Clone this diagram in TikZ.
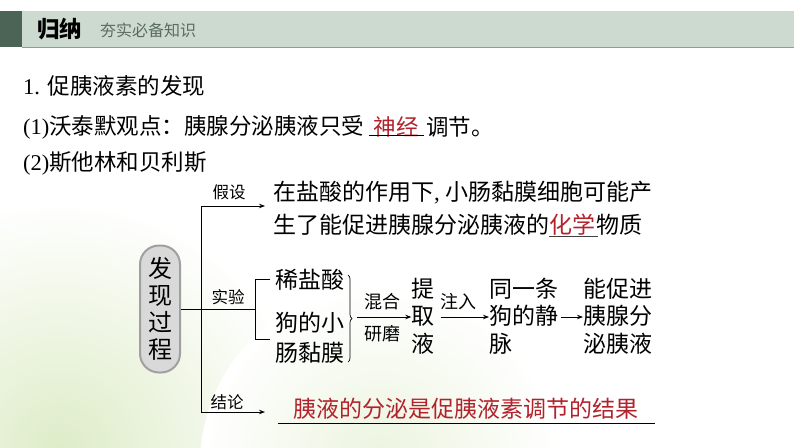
\documentclass[tikz,border=0pt]{standalone}
\usepackage{fontspec}
\setmainfont{Liberation Serif}
\newfontfamily\cjk{Noto Sans CJK SC}
\usetikzlibrary{arrows.meta,decorations.pathreplacing}
\definecolor{ansred}{RGB}{178,34,44}
\definecolor{barbg}{RGB}{205,218,208}
\definecolor{bardark}{RGB}{76,100,86}
\definecolor{bargrey}{RGB}{90,108,96}
\definecolor{pillfill}{RGB}{217,217,217}
\definecolor{pilldraw}{RGB}{160,160,160}
\definecolor{glow}{RGB}{222,236,200}
\begin{document}
\begin{tikzpicture}[x=1pt,y=-1pt,
  hd/.style={inner sep=0pt, anchor=west, font=\cjk\fontsize{22.5}{27}\selectfont},
  txt/.style={inner sep=0pt, anchor=west, font=\cjk\fontsize{23}{27.5}\selectfont},
  lbl/.style={inner sep=0pt, font=\cjk\fontsize{16.5}{18}\selectfont},
  sml/.style={inner sep=0pt, font=\cjk\fontsize{18}{20}\selectfont},
  conn/.style={line width=0.9pt},
  arr/.style={conn,-{Stealth[length=6pt,width=4.5pt]}},
  pill/.style={draw=pilldraw, fill=pillfill, line width=2pt, rounded corners=19pt,
    minimum width=40pt, minimum height=127pt, inner sep=0pt, align=center,
    font=\cjk\fontsize{24}{27}\selectfont},
]
\useasboundingbox (0,0) rectangle (794,447);
% background
\fill[white] (0,0) rectangle (794,447);
\begin{scope}
  \clip (0,0) rectangle (794,447);
  \shade[inner color=glow, outer color=white] (60,450) circle (250);
  \shade[inner color=glow!60, outer color=white] (380,465) circle (180);
\end{scope}
% header
\fill[barbg] (22,11) rectangle (794,47);
\fill[bardark] (0,11) rectangle (22,47);
\draw[line width=1.5pt, color=gray!80] (22,47.5) -- (794,47.5);
\node[inner sep=0pt, anchor=west, font=\cjk\bfseries\fontsize{22.5}{24}\selectfont] (gn) at (37,29) {归纳};
\node[inner sep=0pt, anchor=west, text=bargrey, font=\cjk\fontsize{16}{18}\selectfont] (hs) at (100,30) {夯实必备知识};

% heading lines
\node[hd] (l1) at (23,86) {{\rmfamily 1. }促胰液素的发现};
\node[hd] (l2a) at (23,127) {{\rmfamily (1)}沃泰默观点：胰腺分泌胰液只受};
\node[hd, text=ansred, minimum width=55pt, anchor=west] (sj) at ([xshift=4pt]l2a.east) {神经};
\draw[conn] ([yshift=-8pt]sj.west) -- ([yshift=-8pt]sj.east);
\node[hd] (l2b) at ([xshift=2pt]sj.east) {调节。};
\node[hd] (l3) at (23,163) {{\rmfamily (2)}斯他林和贝利斯};

% pill
\node[pill] (fx) at (160,309) {发\\现\\过\\程};

% trunk
\coordinate (vtop) at (201,206);
\coordinate (vbot) at (201,412);
\coordinate (brk) at (255,309);
\coordinate (atop) at (265,206);
\coordinate (abot) at (265,412);
\draw[conn] (vtop) -- (vbot);
\draw[conn] (fx.east) -- (brk);
\draw[arr] (vtop) -- (atop);
\draw[arr] (vbot) -- (abot);
\node[lbl] (jsl) at (229,192) {假设};
\node[lbl] (syl) at (228,297) {实验};
\node[lbl] (jll) at (227,402) {结论};

% hypothesis
\node[txt] (h1) at (273,193) {在盐酸的作用下{\rmfamily , }小肠黏膜细胞可能产};
\node[txt] (h2a) at (273,225) {生了能促进胰腺分泌胰液的};
\node[txt, text=ansred] (hx) at (h2a.east) {化学};
\node[txt] (h2b) at (hx.east) {物质};
\draw[conn, color=black!75] ([yshift=-11.5pt]hx.west) -- ([yshift=-11.5pt,xshift=2pt]hx.east);

% experiment
\coordinate (bt) at (270,279);
\coordinate (bb) at (270,339);
\draw[conn] (bt) -- (bt -| brk) -- (bb -| brk) -- (bb);
\node[txt] (e1) at (275,280) {稀盐酸};
\node[txt] (e2) at (275,323) {狗的小};
\node[txt] (e3) at (275,353) {肠黏膜};
\coordinate (brT) at (348,275);
\coordinate (brB) at (348,362);
\draw[line width=0.7pt, decorate, decoration={brace, amplitude=4pt}] (brT) -- (brB);
\coordinate (m1) at (357,317);
\node[txt, anchor=center, align=center] (tq) at (423,316) {提\\取\\液};
\draw[arr] (m1) -- (tq.west |- m1);
\node[sml] (hh) at (382,302) {混合};
\node[sml] (ym) at (382,334) {研磨};
\node[txt, align=left] (tyt) at (489,316) {同一条\\狗的静\\脉};
\draw[arr] ([xshift=6pt]tq.east |- m1) -- (tyt.west |- m1);
\node[sml] (zr) at (458,302) {注入};
\node[txt, align=left] (ncj) at (583,316) {能促进\\胰腺分\\泌胰液};
\coordinate (j1) at (561,317);
\draw[arr] (j1) -- (ncj.west |- j1);

% conclusion
\node[txt, text=ansred] (cl) at (293,409) {胰液的分泌是促胰液素调节的结果};
\coordinate (u1) at (278,423);
\coordinate (u2) at (655,423);
\draw[conn] (u1) -- (u2);
\end{tikzpicture}
\end{document}
